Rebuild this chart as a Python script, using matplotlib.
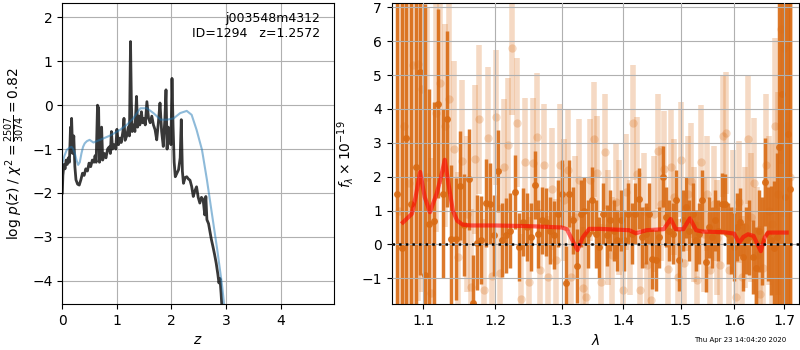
import numpy as np
import matplotlib
matplotlib.use('Agg')
import matplotlib.pyplot as plt
from matplotlib.ticker import FixedLocator, FixedFormatter, NullLocator

# ---------------- left panel: p(z) ----------------
z_pz = [0.0, 0.01, 0.03, 0.05, 0.07, 0.09, 0.11, 0.13, 0.15, 0.16, 0.17, 0.19, 0.21, 0.23, 0.25,
        0.28, 0.31, 0.34, 0.37, 0.40, 0.43, 0.46, 0.49, 0.52, 0.55, 0.58, 0.60, 0.62, 0.645, 0.655,
        0.665, 0.68, 0.70, 0.72, 0.74, 0.77, 0.80, 0.83, 0.86, 0.88, 0.90, 0.92, 0.95, 0.98, 1.00,
        1.03, 1.06, 1.08, 1.11, 1.13, 1.15, 1.18, 1.21, 1.23, 1.25, 1.265, 1.28, 1.31, 1.33, 1.36,
        1.38, 1.40, 1.42, 1.45, 1.47, 1.50, 1.52, 1.55, 1.58, 1.61, 1.64, 1.67, 1.70, 1.73, 1.76,
        1.79, 1.82, 1.85, 1.88, 1.90, 1.92, 1.94, 1.97, 1.99, 2.01, 2.03, 2.05, 2.07, 2.10, 2.13,
        2.16, 2.18, 2.20, 2.22, 2.25, 2.28, 2.31, 2.34, 2.37, 2.40, 2.43, 2.46, 2.49, 2.52, 2.55,
        2.58, 2.61, 2.63, 2.65, 2.68, 2.70, 2.73, 2.76, 2.79, 2.82, 2.85, 2.87, 2.89, 2.91, 2.93]
logp = [-2.0, -1.6, -1.35, -1.45, -1.25, -1.35, -1.2, -1.3, -0.5, -1.0, -0.3, -1.1, -0.7, -1.4, -1.7,
        -1.8, -1.82, -1.7, -1.55, -1.6, -1.45, -1.5, -1.32, -1.4, -1.25, -1.3, -1.15, -1.3, 0.0, -0.8,
        -0.05, -1.3, -1.2, -0.5, -1.25, -1.1, -1.2, -1.0, -0.95, -1.1, -0.6, -1.0, -0.9, -1.0, -0.55,
        -0.9, -0.75, -0.85, -0.6, -0.3, -0.8, -0.7, -0.5, -0.7, 1.45, 0.1, -0.6, -0.45, -0.6, 0.2,
        -0.5, -0.25, -0.45, -0.15, -0.4, -0.3, -0.45, 0.08, -0.3, -0.4, -0.25, -0.45, -0.56, -0.79, -0.4,
        0.05, -0.6, -0.94, -0.3, 0.35, -1.0, -0.5, -0.56, -0.9, 0.61, -0.5, -1.3, -1.63, -1.55, -1.47,
        -1.2, -0.33, -1.5, -1.78, -1.65, -1.63, -1.68, -1.71, -1.85, -2.08, -1.95, -1.86, -2.1, -2.23, -2.1,
        -2.15, -2.5, -2.08, -2.61, -2.7, -2.84, -3.05, -3.22, -3.4, -3.6, -3.85, -4.05, -3.95, -4.3, -4.7]

z_prior = [0, 0.04, 0.08, 0.13, 0.17, 0.2, 0.23, 0.26, 0.29, 0.32, 0.35, 0.38, 0.41, 0.45, 0.5,
           0.57, 0.69, 0.88, 1.06, 1.18, 1.3, 1.43, 1.55, 1.67, 1.8, 1.92, 2.04, 2.16, 2.28, 2.37,
           2.46, 2.56, 2.65, 2.74, 2.84, 2.93, 2.97]
logp_prior = [-1.32, -1.15, -1.02, -0.97, -0.95, -1.0, -1.1, -1.25, -1.36, -1.3, -1.1, -0.95, -0.87, -0.82, -0.79,
              -0.85, -0.79, -0.69, -0.56, -0.45, -0.3, -0.07, -0.07, -0.18, -0.33, -0.33, -0.3, -0.18, -0.13, -0.22,
              -0.56, -1.02, -1.7, -2.46, -3.3, -4.13, -4.6]

# ---------------- right panel: spectrum ----------------
wl_dark = [1.066, 1.072, 1.078, 1.084, 1.090, 1.096, 1.102, 1.108, 1.114, 1.120,
           1.126, 1.132, 1.138, 1.144, 1.150, 1.156, 1.162, 1.168, 1.174, 1.180,
           1.186, 1.192, 1.198, 1.204, 1.210, 1.216, 1.222, 1.228, 1.234, 1.240,
           1.246, 1.252, 1.258, 1.264, 1.270, 1.276, 1.282, 1.288, 1.294, 1.300,
           1.306, 1.312, 1.318, 1.324, 1.330, 1.336, 1.342, 1.348, 1.354, 1.360,
           1.366, 1.372, 1.378, 1.384, 1.390, 1.396, 1.402, 1.408, 1.414, 1.420,
           1.426, 1.432, 1.438, 1.444, 1.450, 1.456, 1.462, 1.468, 1.474, 1.480,
           1.486, 1.492, 1.498, 1.504, 1.510, 1.516, 1.522, 1.528, 1.534, 1.540,
           1.546, 1.552, 1.558, 1.564, 1.570, 1.576, 1.582, 1.588, 1.594, 1.600,
           1.606, 1.612, 1.618, 1.624, 1.630, 1.636, 1.642, 1.648, 1.654, 1.660,
           1.666, 1.672, 1.678, 1.684, 1.690, 1.696, 1.702, 1.708, 1.712]
f_dark = [1.5, -0.1, 3.15, 1.2, 2.3, 5.1, -0.9, 0.6, 0.7, 4.16,
          1.5, 3.7, 0.16, 0.16, 1.74, 0.58, 1.92, -1.72, 0.05, 0.12,
          1.23, 1.2, 0.27, 2.17, 0.13, 0.27, 0.41, 1.55, -0.08, 0.66,
          0.51, 0.21, 1.75, 0.31, 0.71, 0.66, 0.41, 0.27, 0.91, 1.5,
          -1.15, 1.5, 0.71, -0.64, 0.91, 1.0, 0.31, 1.3, 0.31, -0.08,
          0.91, 0.27, 0.71, 0.41, 0.12, 0.71, 0.12, 0.91, 0.31, 0.91,
          1.35, 0.21, 0.31, 0.91, -0.43, -0.47, 0.21, 2.0, 0.81, 0.4,
          0.31, 1.3, -0.47, 0.71, 1.1, 0.41, 0.91, 0.12, 0.31, 1.3,
          -0.52, 0.51, 0.21, 0.71, 0.41, 1.2, 1.18, 0.31, 0.12, -0.08,
          0.51, 0.66, -0.37, 0.12, 0.21, -0.37, -0.69, 0.4, 0.1, 1.85,
          0.31, 0.12, -0.12, 0.21, 2.88, 4.45, 1.4, 3.27, 1.63]
e_dark = [12, 10, 9, 8, 7, 6, 8, 4, 3.5, 2.8,
          2.5, 2.6, 2.2, 1.8, 1.6, 1.5, 1.5, 1.4, 1.4, 1.3,
          1.3, 1.2, 1.2, 1.2, 1.1, 1.1, 1.1, 1.1, 1.0, 1.0,
          1.0, 1.0, 1.0, 1.0, 1.0, 1.0, 1.0, 1.0, 1.0, 1.0,
          1.1, 1.0, 1.0, 1.1, 1.0, 1.0, 1.0, 1.0, 1.0, 0.9,
          0.9, 0.9, 0.9, 0.9, 0.9, 0.9, 0.9, 0.9, 0.9, 0.9,
          0.9, 0.9, 0.9, 0.9, 0.9, 0.9, 0.9, 0.9, 0.9, 0.9,
          0.9, 0.9, 0.9, 0.9, 0.9, 0.9, 0.9, 0.9, 0.9, 0.9,
          0.9, 0.9, 0.9, 0.9, 0.9, 0.9, 0.9, 0.9, 1.0, 1.0,
          1.0, 1.0, 1.0, 1.0, 1.1, 1.1, 1.2, 1.2, 1.3, 1.3,
          1.4, 1.6, 2.0, 2.5, 6, 9, 10, 10, 10]

wl_light = [1.069, 1.075, 1.081, 1.087, 1.093, 1.099, 1.105, 1.111, 1.117, 1.123,
            1.129, 1.135, 1.141, 1.147, 1.153, 1.159, 1.165, 1.171, 1.177, 1.183,
            1.189, 1.195, 1.201, 1.207, 1.213, 1.219, 1.225, 1.231, 1.237, 1.243,
            1.249, 1.255, 1.261, 1.267, 1.273, 1.279, 1.285, 1.291, 1.297, 1.303,
            1.309, 1.315, 1.321, 1.327, 1.333, 1.339, 1.345, 1.351, 1.357, 1.363,
            1.369, 1.375, 1.381, 1.387, 1.393, 1.399, 1.405, 1.411, 1.417, 1.423,
            1.429, 1.435, 1.441, 1.447, 1.453, 1.459, 1.465, 1.471, 1.477, 1.483,
            1.489, 1.495, 1.501, 1.507, 1.513, 1.519, 1.525, 1.531, 1.537, 1.543,
            1.549, 1.555, 1.561, 1.567, 1.573, 1.579, 1.585, 1.591, 1.597, 1.603,
            1.609, 1.615, 1.621, 1.627, 1.633, 1.639, 1.645, 1.651, 1.657, 1.663,
            1.669, 1.675, 1.681, 1.687, 1.693, 1.699, 1.705, 1.711]
f_light = [1.0, 3.5, 1.8, 5.29, 5.34, 4.6, 2.0, -1.44, 3.88, 4.77,
           3.5, 4.3, 2.83, -0.37, 2.45, 0.9, -1.25, 2.52, 3.7, -1.35,
           3.14, -0.94, 3.75, -0.85, 2.29, 2.93, 5.81, 3.6, -1.6, 2.42,
           -1.1, 2.41, 3.17, -0.76, 2.34, -0.97, 1.65, -0.47, 2.34, 1.3,
           2.21, -0.96, 0.8, 1.9, -1.3, -1.55, 1.9, 3.1, 2.1, -1.1,
           2.74, 0.5, -0.3, 1.26, 0.8, -1.35, 1.55, 0.2, 3.6, 2.07,
           -1.35, 1.0, -0.6, -1.65, 0.9, 2.75, 1.2, 2.24, -0.72, 2.29,
           1.4, -0.96, 2.5, -0.56, 1.5, 1.88, 0.6, -1.05, 2.42, 0.3,
           1.5, -0.76, 1.2, 0.2, -0.62, 3.2, 3.29, -0.76, 1.0, -1.55,
           1.26, -0.96, 0.5, 3.1, 0.8, 1.82, -0.3, -1.45, -0.69, 2.34,
           1.0, 0.6, 3.5, 1.5, 6.37, 5.8, 3.5, 2.0]
e_light = [12, 10, 9, 8, 7, 6, 5, 4, 3.5, 3,
           3, 2.8, 2.6, 2.5, 2.4, 2.3, 2.3, 2.2, 2.2, 2.1,
           2.1, 2.0, 2.0, 2.0, 2.0, 2.0, 2.0, 1.9, 1.9, 1.9,
           1.9, 1.9, 1.9, 1.8, 1.8, 1.8, 1.8, 1.8, 1.8, 1.8,
           1.8, 1.8, 1.8, 1.8, 1.8, 1.8, 1.8, 1.7, 1.7, 1.7,
           1.7, 1.7, 1.7, 1.7, 1.7, 1.7, 1.7, 1.7, 1.7, 1.7,
           1.7, 1.7, 1.7, 1.7, 1.7, 1.7, 1.7, 1.7, 1.7, 1.7,
           1.7, 1.7, 1.7, 1.7, 1.7, 1.7, 1.7, 1.7, 1.7, 1.7,
           1.7, 1.7, 1.7, 1.7, 1.7, 1.8, 1.8, 1.8, 1.8, 1.8,
           1.8, 1.8, 1.8, 1.9, 1.9, 1.9, 2.0, 2.0, 2.0, 2.1,
           2.2, 2.4, 2.6, 3, 4, 5, 6, 8]

wl_model = [1.0734, 1.085, 1.090, 1.096, 1.102, 1.109, 1.118, 1.124, 1.129, 1.134, 1.140,
            1.146, 1.154, 1.165, 1.20, 1.25, 1.30, 1.308, 1.316, 1.3249, 1.333, 1.3436,
            1.36, 1.41, 1.4213, 1.44, 1.47, 1.4824, 1.4913, 1.505, 1.517, 1.5285, 1.54,
            1.581, 1.600, 1.6099, 1.618, 1.627, 1.638, 1.6524, 1.660, 1.667, 1.7047]
f_model = [0.65, 0.9, 1.4, 2.14, 1.4, 0.95, 1.5, 2.0, 2.5, 1.8, 1.0,
           0.7, 0.58, 0.56, 0.56, 0.54, 0.5, 0.45, 0.15, -0.17, 0.2, 0.46,
           0.46, 0.42, 0.33, 0.42, 0.45, 0.75, 0.45, 0.45, 0.77, 0.42, 0.38,
           0.36, 0.32, 0.05, 0.22, 0.3, 0.25, -0.2, 0.2, 0.35, 0.35]

xticks_r = [1.1, 1.2, 1.3, 1.4, 1.5, 1.6, 1.7]

orange = '#d96b14'

fig = plt.figure(figsize=(8, 3.5), dpi=100)
ax1 = fig.add_axes([0.0779, 0.1314, 0.339, 0.859])
ax2 = fig.add_axes([0.4896, 0.1314, 0.509, 0.859])

# left
ax1.plot(z_pz, logp, color='k', alpha=0.78, lw=2)
ax1.plot(z_prior, logp_prior, color='#1f77b4', alpha=0.5, lw=1.5)
ax1.set_xlim(0, 4.97)
ax1.set_ylim(-4.53, 2.32)
ax1.set_xticks([0, 1, 2, 3, 4])
ax1.set_yticks([-4, -3, -2, -1, 0, 1, 2])
ax1.grid(True)
ax1.set_xlabel(r'$z$')
ax1.set_ylabel(r'log $p(z)$ / $\chi^2=\frac{2507}{3074}=0.82$')
ax1.text(0.95, 0.97, 'j003548m4312\nID=1294   z=1.2572', ha='right', va='top',
         transform=ax1.transAxes, fontsize=9)

# right
ax2.errorbar(wl_light, f_light, yerr=e_light, fmt='o', color=orange, alpha=0.25,
             ms=6, elinewidth=4, capsize=0, mew=0, zorder=1)
ax2.errorbar(wl_dark, f_dark, yerr=e_dark, fmt='o', color=orange, alpha=0.9,
             ms=5, elinewidth=2.5, capsize=0, mew=0, zorder=1.2)
ax2.set_xscale('log')
ax2.set_xlim(1.059, 1.73)
ax2.set_ylim(-1.76, 7.12)
ax2.xaxis.set_major_locator(FixedLocator(xticks_r))
ax2.xaxis.set_major_formatter(FixedFormatter([str(t) for t in xticks_r]))
ax2.xaxis.set_minor_locator(NullLocator())
ax2.set_yticks([-1, 0, 1, 2, 3, 4, 5, 6, 7])
ax2.set_axisbelow(False)
ax2.grid(True, zorder=2.5)
ax2.plot(wl_model, f_model, color='red', alpha=0.6, lw=3, zorder=3)
ax2.axhline(0, color='k', ls=':', lw=1.8, zorder=3.5)
ax2.set_xlabel(r'$\lambda$')
ax2.set_ylabel(r'$f_\lambda \times 10^{-19}$')

fig.text(0.983, 0.02, 'Thu Apr 23 14:04:20 2020', ha='right', va='bottom', fontsize=5)

fig.savefig('out.png', dpi=100)
